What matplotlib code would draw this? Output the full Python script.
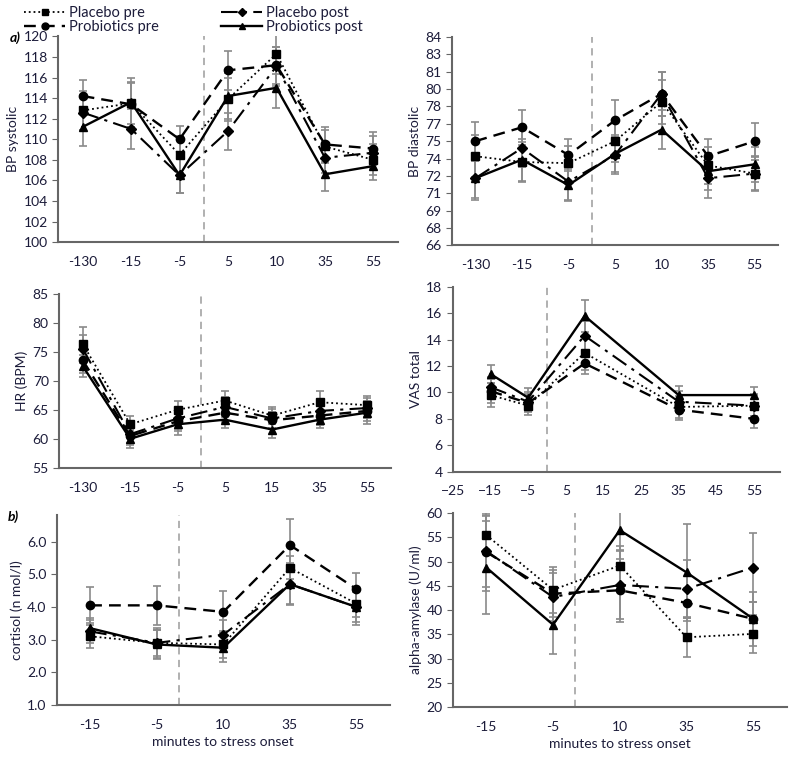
import matplotlib
matplotlib.use('Agg')
import matplotlib.pyplot as plt
from matplotlib.lines import Line2D

plt.rcParams['font.family'] = ['Lato', 'DejaVu Sans']
plt.rcParams['font.size'] = 10

# series order: placebo pre, placebo post, probiotics pre, probiotics post
names = ['Placebo pre', 'Placebo post', 'Probiotics pre', 'Probiotics post']

# BP systolic
sys_x = ['-130', '-15', '-5', '5', '10', '35', '55']
sys_pp = [112.8, 113.5, 108.5, 113.9, 118.3, 109.3, 108.0]
sys_po = [112.6, 111.0, 106.5, 110.8, 117.1, 108.2, 108.7]
sys_rp = [114.2, 113.4, 110.0, 116.7, 117.2, 109.5, 109.1]
sys_ro = [111.2, 113.6, 106.5, 114.2, 115.0, 106.6, 107.4]
sys_err = [[1.9, 2.0, 1.8, 2.1, 2.0, 1.6, 1.5],
           [1.7, 1.9, 1.7, 1.8, 1.9, 1.5, 1.6],
           [1.6, 2.2, 1.3, 1.9, 1.8, 1.7, 1.6],
           [1.9, 2.4, 1.7, 2.2, 2.0, 1.6, 1.4]]

# BP diastolic
dia_x = ['-130', '-15', '-5', '5', '10', '35', '55']
dia_pp = [73.7, 73.2, 73.1, 75.0, 78.4, 72.9, 72.2]
dia_po = [71.8, 74.4, 71.5, 73.8, 79.1, 71.8, 72.2]
dia_rp = [75.0, 76.2, 73.8, 76.8, 79.1, 73.7, 75.0]
dia_ro = [71.8, 73.4, 71.2, 73.9, 76.0, 72.4, 73.0]
dia_err = [[1.8, 1.7, 1.5, 1.8, 1.9, 1.6, 1.4],
           [1.9, 1.6, 1.6, 1.6, 1.9, 1.7, 1.5],
           [1.7, 1.5, 1.4, 1.8, 1.9, 1.5, 1.6],
           [1.7, 1.8, 1.4, 1.6, 1.7, 1.6, 1.5]]
dia_ticks = [66, 67.5, 69, 70.5, 72, 73.5, 75, 76.5, 78, 79.5, 81, 82.5, 84]
dia_labels = ['66', '68', '69', '71', '72', '74', '75', '77', '78', '80', '81', '83', '84']

# HR
hr_x = ['-130', '-15', '-5', '5', '15', '35', '55']
hr_pp = [76.3, 62.5, 65.0, 66.6, 64.0, 66.3, 65.8]
hr_po = [75.5, 60.8, 63.5, 65.5, 63.5, 64.8, 65.3]
hr_rp = [73.5, 60.5, 63.0, 64.5, 63.2, 64.0, 64.8]
hr_ro = [72.5, 60.0, 62.5, 63.3, 61.6, 63.3, 64.5]
hr_err = [[2.9, 1.5, 1.6, 1.7, 1.5, 2.0, 1.6],
          [2.4, 1.6, 1.8, 1.7, 1.6, 1.7, 1.8],
          [2.2, 1.5, 1.7, 1.6, 1.5, 1.6, 1.8],
          [1.9, 1.5, 1.8, 1.5, 1.4, 1.5, 1.9]]

# VAS total (numeric x)
vas_x = [-15, -5, 10, 35, 55]
vas_pp = [9.8, 9.0, 13.0, 8.9, 9.0]
vas_po = [10.4, 9.3, 14.3, 9.3, 9.0]
vas_rp = [10.1, 9.2, 12.2, 8.7, 8.0]
vas_ro = [11.4, 9.6, 15.8, 9.8, 9.8]
vas_err = [[0.9, 0.7, 1.3, 0.8, 0.9],
           [0.8, 0.7, 1.1, 0.8, 0.8],
           [0.9, 0.7, 0.8, 0.8, 0.7],
           [0.7, 0.7, 1.2, 0.7, 0.6]]

# cortisol
cor_x = ['-15', '-5', '10', '35', '55']
cor_pp = [3.1, 2.9, 2.85, 5.2, 4.1]
cor_po = [3.25, 2.9, 3.15, 4.7, 4.0]
cor_rp = [4.05, 4.05, 3.85, 5.9, 4.55]
cor_ro = [3.35, 2.85, 2.75, 4.7, 4.0]
cor_err = [[0.35, 0.4, 0.4, 0.35, 0.4],
           [0.35, 0.45, 0.45, 0.6, 0.45],
           [0.55, 0.6, 0.65, 0.8, 0.5],
           [0.3, 0.45, 0.45, 0.65, 0.55]]

# alpha-amylase
amy_x = ['-15', '-5', '10', '35', '55']
amy_pp = [55.5, 44.2, 49.2, 34.4, 35.1]
amy_po = [52.2, 42.7, 45.2, 44.4, 48.8]
amy_rp = [52.0, 43.4, 44.1, 41.5, 38.2]
amy_ro = [48.8, 37.0, 56.5, 47.8, 38.2]
amy_err = [[4.0, 4.8, 4.0, 4.0, 4.0],
           [7.5, 5.0, 7.0, 6.0, 7.2],
           [8.0, 4.8, 6.5, 3.0, 3.5],
           [9.5, 6.0, 4.0, 10.0, 5.5]]

styles = [
    dict(ls=':', marker='s', ms=6, lw=1.3),
    dict(ls=(0, (8, 3, 1.5, 3)), marker='D', ms=5, lw=1.5),
    dict(ls=(0, (5, 3)), marker='o', ms=6, lw=1.7),
    dict(ls='-', marker='^', ms=6, lw=1.7),
]

fig = plt.figure(figsize=(7.89, 7.57), dpi=100)


def panel(rect, xs, series, errs, ylabel, ylim, yticks, onset, numeric=False):
    ax = fig.add_axes(rect)
    pos = xs if numeric else list(range(len(xs)))
    for ys, er, st in zip(series, errs, styles):
        ax.errorbar(pos, ys, yerr=er, color='black', ecolor='#8a8a8a',
                    elinewidth=1.2, capsize=3, capthick=1.2, mfc='black',
                    mec='black', **st)
    ax.axvline(onset, color='#aaaaaa', ls=(0, (4, 3)), lw=1.3, zorder=0)
    ax.set_ylim(*ylim)
    ax.set_yticks(yticks)
    if not numeric:
        ax.set_xticks(pos)
        ax.set_xticklabels(xs)
        ax.set_xlim(-0.5, len(xs) - 0.5)
    for s in ['top', 'right']:
        ax.spines[s].set_visible(False)
    for s in ['left', 'bottom']:
        ax.spines[s].set_color('#666666')
        ax.spines[s].set_linewidth(1.5)
    ax.tick_params(axis='y', direction='out', length=4, color='#666666', labelcolor='#1c1c3a')
    ax.tick_params(axis='x', length=0, pad=10, labelcolor='#1c1c3a')
    ax.set_ylabel(ylabel, color='#1c1c3a', labelpad=3)
    return ax


ax1 = panel([0.074, 0.680, 0.43, 0.272], sys_x, [sys_pp, sys_po, sys_rp, sys_ro], sys_err,
            'BP systolic', (100, 120), range(100, 121, 2), 2.5)
ax2 = panel([0.573, 0.676, 0.413, 0.275], dia_x, [dia_pp, dia_po, dia_rp, dia_ro], dia_err,
            'BP diastolic', (66, 84), dia_ticks, 2.5)
ax2.set_yticklabels(dia_labels)
ax3 = panel([0.075, 0.382, 0.42, 0.230], hr_x, [hr_pp, hr_po, hr_rp, hr_ro], hr_err,
            'HR (BPM)', (55, 85), range(55, 86, 5), 2.5)
ax4 = panel([0.574, 0.377, 0.415, 0.244], vas_x, [vas_pp, vas_po, vas_rp, vas_ro], vas_err,
            'VAS total', (4, 18), range(4, 19, 2), 0, numeric=True)
ax4.set_xlim(-25, 62)
ax4.set_xticks(range(-25, 56, 10))
ax5 = panel([0.072, 0.069, 0.422, 0.251], cor_x, [cor_pp, cor_po, cor_rp, cor_ro], cor_err,
            'cortisol (n mol/l)', (1.0, 6.83), [1, 2, 3, 4, 5, 6], 1 + 5 / 15)
ax5.set_yticklabels(['1.0', '2.0', '3.0', '4.0', '5.0', '6.0'])
ax5.set_xlabel('minutes to stress onset', color='#1c1c3a')
ax6 = panel([0.574, 0.066, 0.423, 0.256], amy_x, [amy_pp, amy_po, amy_rp, amy_ro], amy_err,
            'alpha-amylase (U/ml)', (20, 60), range(20, 61, 5), 1 + 5 / 15)
ax6.set_xlabel('minutes to stress onset', color='#1c1c3a')

fig.text(0.012, 0.945, 'a)', fontsize=10, fontweight='bold', fontstyle='italic')
fig.text(0.010, 0.312, 'b)', fontsize=10, fontweight='bold', fontstyle='italic')

handles = [Line2D([], [], color='black', mfc='black', mec='black',
                  **dict(st, ms=st['ms'] - 1)) for st in styles]
order = [0, 2, 1, 3]
fig.legend([handles[i] for i in order], [names[i] for i in order], ncol=2,
           loc='upper left', bbox_to_anchor=(0.016, 1.008), frameon=False,
           handlelength=2.8, handletextpad=0.25, columnspacing=4.3, labelspacing=0.0,
           borderpad=0.3, labelcolor='#1c1c3a', fontsize=10.5)

fig.savefig('out.png', dpi=100)
